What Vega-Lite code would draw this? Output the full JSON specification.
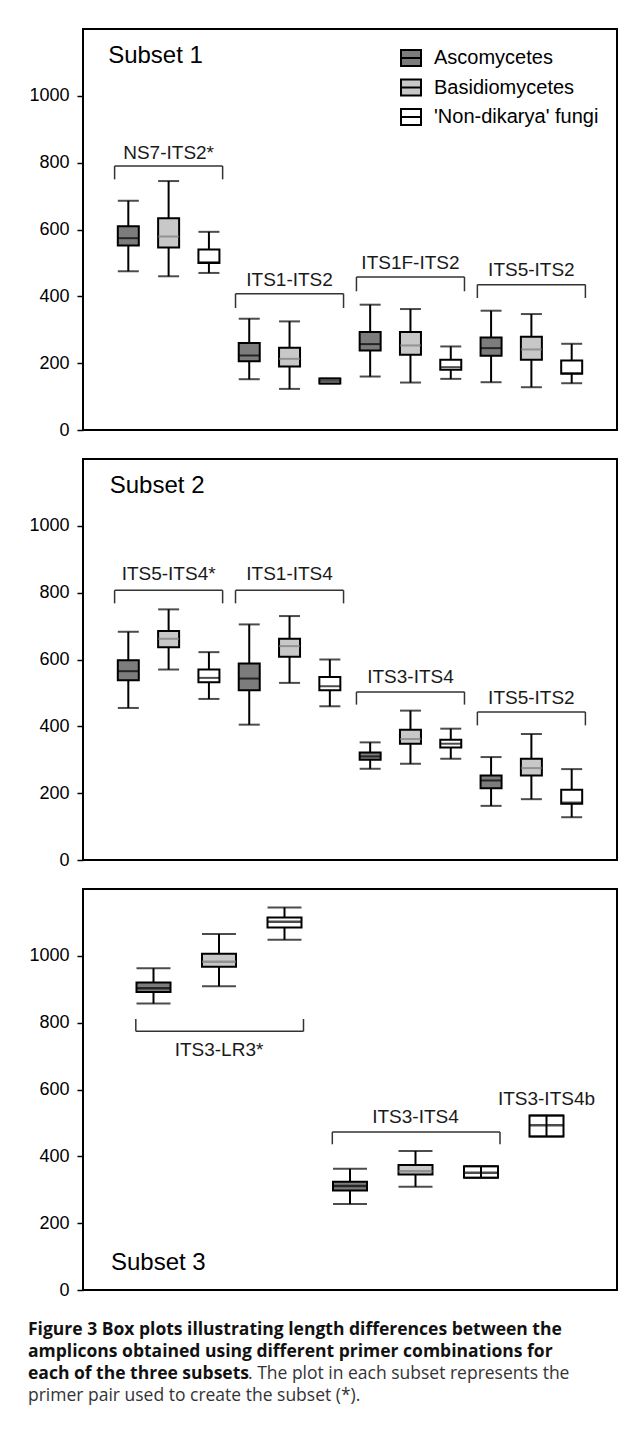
{
  "$schema": "https://vega.github.io/schema/vega-lite/v6.json",
  "background": "white",
  "padding": {"left": 27, "top": 28, "right": 11, "bottom": 20},
  "bounds": "flush",
  "spacing": 29,
  "datasets": {
    "s1": [
      {"pos": 1, "group": "NS7-ITS2*", "taxon": "Ascomycetes", "lower": 475, "q1": 552, "median": 574, "q3": 610, "upper": 686},
      {"pos": 2, "group": "NS7-ITS2*", "taxon": "Basidiomycetes", "lower": 460, "q1": 546, "median": 579, "q3": 634, "upper": 745},
      {"pos": 3, "group": "NS7-ITS2*", "taxon": "'Non-dikarya' fungi", "lower": 470, "q1": 500, "median": 502, "q3": 540, "upper": 593},
      {"pos": 4, "group": "ITS1-ITS2", "taxon": "Ascomycetes", "lower": 152, "q1": 206, "median": 223, "q3": 260, "upper": 333},
      {"pos": 5, "group": "ITS1-ITS2", "taxon": "Basidiomycetes", "lower": 123, "q1": 190, "median": 213, "q3": 246, "upper": 325},
      {"pos": 6, "group": "ITS1-ITS2", "taxon": "'Non-dikarya' fungi", "lower": 139, "q1": 139, "median": 147, "q3": 154, "upper": 154},
      {"pos": 7, "group": "ITS1F-ITS2", "taxon": "Ascomycetes", "lower": 160, "q1": 238, "median": 257, "q3": 293, "upper": 375},
      {"pos": 8, "group": "ITS1F-ITS2", "taxon": "Basidiomycetes", "lower": 142, "q1": 225, "median": 253, "q3": 293, "upper": 362},
      {"pos": 9, "group": "ITS1F-ITS2", "taxon": "'Non-dikarya' fungi", "lower": 153, "q1": 180, "median": 188, "q3": 210, "upper": 250},
      {"pos": 10, "group": "ITS5-ITS2", "taxon": "Ascomycetes", "lower": 143, "q1": 222, "median": 245, "q3": 277, "upper": 357},
      {"pos": 11, "group": "ITS5-ITS2", "taxon": "Basidiomycetes", "lower": 128, "q1": 210, "median": 241, "q3": 279, "upper": 347},
      {"pos": 12, "group": "ITS5-ITS2", "taxon": "'Non-dikarya' fungi", "lower": 140, "q1": 168, "median": 170, "q3": 208, "upper": 258}
    ],
    "s2": [
      {"pos": 1, "group": "ITS5-ITS4*", "taxon": "Ascomycetes", "lower": 455, "q1": 538, "median": 565, "q3": 598, "upper": 683},
      {"pos": 2, "group": "ITS5-ITS4*", "taxon": "Basidiomycetes", "lower": 570, "q1": 637, "median": 662, "q3": 685, "upper": 750},
      {"pos": 3, "group": "ITS5-ITS4*", "taxon": "'Non-dikarya' fungi", "lower": 482, "q1": 532, "median": 545, "q3": 570, "upper": 622},
      {"pos": 4, "group": "ITS1-ITS4", "taxon": "Ascomycetes", "lower": 405, "q1": 508, "median": 543, "q3": 588, "upper": 705},
      {"pos": 5, "group": "ITS1-ITS4", "taxon": "Basidiomycetes", "lower": 530, "q1": 608, "median": 640, "q3": 662, "upper": 730},
      {"pos": 6, "group": "ITS1-ITS4", "taxon": "'Non-dikarya' fungi", "lower": 460, "q1": 508, "median": 520, "q3": 548, "upper": 600},
      {"pos": 7, "group": "ITS3-ITS4", "taxon": "Ascomycetes", "lower": 273, "q1": 300, "median": 310, "q3": 322, "upper": 352},
      {"pos": 8, "group": "ITS3-ITS4", "taxon": "Basidiomycetes", "lower": 288, "q1": 348, "median": 362, "q3": 390, "upper": 447},
      {"pos": 9, "group": "ITS3-ITS4", "taxon": "'Non-dikarya' fungi", "lower": 303, "q1": 337, "median": 348, "q3": 360, "upper": 393},
      {"pos": 10, "group": "ITS5-ITS2", "taxon": "Ascomycetes", "lower": 162, "q1": 215, "median": 238, "q3": 253, "upper": 308},
      {"pos": 11, "group": "ITS5-ITS2", "taxon": "Basidiomycetes", "lower": 182, "q1": 253, "median": 275, "q3": 303, "upper": 377},
      {"pos": 12, "group": "ITS5-ITS2", "taxon": "'Non-dikarya' fungi", "lower": 128, "q1": 168, "median": 172, "q3": 210, "upper": 272}
    ],
    "s3": [
      {"pos": 1, "group": "ITS3-LR3*", "taxon": "Ascomycetes", "lower": 857, "q1": 892, "median": 903, "q3": 920, "upper": 963},
      {"pos": 2, "group": "ITS3-LR3*", "taxon": "Basidiomycetes", "lower": 909, "q1": 967, "median": 982, "q3": 1006, "upper": 1065},
      {"pos": 3, "group": "ITS3-LR3*", "taxon": "'Non-dikarya' fungi", "lower": 1048, "q1": 1085, "median": 1102, "q3": 1115, "upper": 1145},
      {"pos": 4, "group": "ITS3-ITS4", "taxon": "Ascomycetes", "lower": 257, "q1": 298, "median": 311, "q3": 324, "upper": 363},
      {"pos": 5, "group": "ITS3-ITS4", "taxon": "Basidiomycetes", "lower": 309, "q1": 346, "median": 355, "q3": 374, "upper": 416},
      {"pos": 6, "group": "ITS3-ITS4", "taxon": "'Non-dikarya' fungi", "lower": 336, "q1": 336, "median": 351, "q3": 370, "upper": 370},
      {"pos": 7, "group": "ITS3-ITS4b", "taxon": "'Non-dikarya' fungi", "lower": 459, "q1": 459, "median": 493, "q3": 522, "upper": 522}
    ],
    "b1": [
      {"label": "NS7-ITS2*", "first": 1, "last": 3, "level": 790, "tip": 750, "ly": 830},
      {"label": "ITS1-ITS2", "first": 4, "last": 6, "level": 408, "tip": 365, "ly": 450},
      {"label": "ITS1F-ITS2", "first": 7, "last": 9, "level": 458, "tip": 415, "ly": 500},
      {"label": "ITS5-ITS2", "first": 10, "last": 12, "level": 435, "tip": 395, "ly": 478}
    ],
    "b2": [
      {"label": "ITS5-ITS4*", "first": 1, "last": 3, "level": 807, "tip": 768, "ly": 855},
      {"label": "ITS1-ITS4", "first": 4, "last": 6, "level": 807, "tip": 768, "ly": 855},
      {"label": "ITS3-ITS4", "first": 7, "last": 9, "level": 503, "tip": 465, "ly": 547},
      {"label": "ITS5-ITS2", "first": 10, "last": 12, "level": 443, "tip": 403, "ly": 485}
    ],
    "b3": [
      {"label": "ITS3-LR3*", "first": 1, "last": 3, "level": 774, "tip": 811, "ly": 717},
      {"label": "ITS3-ITS4", "first": 4, "last": 6, "level": 473, "tip": 436, "ly": 517},
      {"label": "ITS3-ITS4b", "first": 7, "last": 7, "level": null, "tip": null, "ly": 571}
    ],
    "cap": [
      {"line": 1, "part": "lead", "text": "Figure 3 Box plots illustrating length differences between the"},
      {"line": 2, "part": "lead", "text": "amplicons obtained using different primer combinations for"},
      {"line": 3, "part": "lead", "text": "each of the three subsets"},
      {"line": 3, "part": "inline", "text": ". The plot in each subset represents the"},
      {"line": 4, "part": "body", "text": "primer pair used to create the subset (*)."}
    ]
  },
  "resolve": {
    "scale": {"x": "independent", "y": "independent", "fill": "independent", "color": "independent"},
    "legend": {"fill": "independent"}
  },
  "vconcat": [
    {
      "width": 534,
      "height": 401,
      "layer": [
        {
          "data": {"name": "s1"},
          "mark": {"type": "rule", "stroke": "black", "strokeWidth": 2},
          "encoding": {
            "x": {"field": "pos", "type": "quantitative", "scale": {"domain": [0, 13], "nice": false, "zero": false}},
            "y": {"field": "lower", "type": "quantitative", "title": null, "scale": {"domain": [0, 1200], "nice": false},
              "axis": {"values": [0, 100, 200, 300, 400, 500, 600, 700, 800, 900, 1000, 1100], "format": "d", "labelOverlap": false,
                "labelExpr": "datum.value % 200 === 0 ? datum.label : ''",
                "tickSize": {"condition": {"test": "datum.value % 200 === 0", "value": 6}, "value": 3}}},
            "y2": {"field": "upper"}
          }
        },
        {
          "data": {"name": "s1"},
          "mark": {"type": "bar", "width": 21, "stroke": "black", "strokeWidth": 2},
          "encoding": {
            "x": {"field": "pos", "type": "quantitative"},
            "y": {"field": "q1", "type": "quantitative", "title": null},
            "y2": {"field": "q3"},
            "fill": {"field": "taxon", "type": "nominal",
              "scale": {"domain": ["Ascomycetes", "Basidiomycetes", "'Non-dikarya' fungi"], "range": ["#7c7c7c", "#c8c8c8", "#ffffff"]},
              "legend": {"orient": "top-right", "offset": 18, "padding": 0, "title": null, "labelFont": "Liberation Sans", "labelFontSize": 20, "labelColor": "black", "labelOffset": 12, "labelLimit": 400, "rowPadding": 5.5,
                "symbolType": "M-1,-0.8H1V0.8H-1Z M-1,0H1", "symbolSize": 400, "symbolStrokeColor": "black", "symbolStrokeWidth": 2}}
          }
        },
        {
          "data": {"name": "s1"},
          "mark": {"type": "tick", "orient": "horizontal", "size": 21, "thickness": 2},
          "encoding": {
            "x": {"field": "pos", "type": "quantitative"},
            "y": {"field": "median", "type": "quantitative", "title": null},
            "color": {"field": "taxon", "type": "nominal", "legend": null,
              "scale": {"domain": ["Ascomycetes", "Basidiomycetes", "'Non-dikarya' fungi"], "range": ["#000000", "#7a7a7a", "#000000"]}}
          }
        },
        {
          "data": {"name": "s1"},
          "mark": {"type": "tick", "orient": "horizontal", "size": 21, "thickness": 2, "color": "black"},
          "encoding": {
            "x": {"field": "pos", "type": "quantitative"},
            "y": {"field": "lower", "type": "quantitative", "title": null}
          }
        },
        {
          "data": {"name": "s1"},
          "mark": {"type": "tick", "orient": "horizontal", "size": 21, "thickness": 2, "color": "black"},
          "encoding": {
            "x": {"field": "pos", "type": "quantitative"},
            "y": {"field": "upper", "type": "quantitative", "title": null}
          }
        },
        {
          "data": {"name": "b1"},
          "transform": [
            {"calculate": "datum.first - 0.34", "as": "x0"},
            {"calculate": "datum.last + 0.34", "as": "x1"},
            {"calculate": "(datum.first + datum.last) / 2", "as": "mid"}
          ],
          "layer": [
            {"mark": {"type": "rule", "stroke": "#333333", "strokeWidth": 1.5},
             "encoding": {"x": {"field": "x0", "type": "quantitative"}, "x2": {"field": "x1"}, "y": {"field": "level", "type": "quantitative", "title": null}}},
            {"mark": {"type": "rule", "stroke": "#333333", "strokeWidth": 1.5},
             "encoding": {"x": {"field": "x0", "type": "quantitative"}, "y": {"field": "level", "type": "quantitative", "title": null}, "y2": {"field": "tip"}}},
            {"mark": {"type": "rule", "stroke": "#333333", "strokeWidth": 1.5},
             "encoding": {"x": {"field": "x1", "type": "quantitative"}, "y": {"field": "level", "type": "quantitative", "title": null}, "y2": {"field": "tip"}}},
            {"mark": {"type": "text", "font": "Liberation Sans", "fontSize": 19, "color": "#1a1a1a", "align": "center", "baseline": "middle"},
             "encoding": {"x": {"field": "mid", "type": "quantitative"}, "y": {"field": "ly", "type": "quantitative", "title": null}, "text": {"field": "label"}}}
          ]
        },
        {
          "data": {"values": [{"label": "Subset 1"}]},
          "mark": {"type": "text", "font": "Liberation Sans", "fontSize": 24, "color": "black", "align": "left", "baseline": "middle"},
          "encoding": {"x": {"datum": 0.5, "type": "quantitative"}, "y": {"datum": 1120, "type": "quantitative", "title": null}, "text": {"field": "label"}}
        }
      ]
    },
    {
      "width": 534,
      "height": 401,
      "layer": [
        {
          "data": {"name": "s2"},
          "mark": {"type": "rule", "stroke": "black", "strokeWidth": 2},
          "encoding": {
            "x": {"field": "pos", "type": "quantitative", "scale": {"domain": [0, 13], "nice": false, "zero": false}},
            "y": {"field": "lower", "type": "quantitative", "title": null, "scale": {"domain": [0, 1200], "nice": false},
              "axis": {"values": [0, 100, 200, 300, 400, 500, 600, 700, 800, 900, 1000, 1100], "format": "d", "labelOverlap": false,
                "labelExpr": "datum.value % 200 === 0 ? datum.label : ''",
                "tickSize": {"condition": {"test": "datum.value % 200 === 0", "value": 6}, "value": 3}}},
            "y2": {"field": "upper"}
          }
        },
        {
          "data": {"name": "s2"},
          "mark": {"type": "bar", "width": 21, "stroke": "black", "strokeWidth": 2},
          "encoding": {
            "x": {"field": "pos", "type": "quantitative"},
            "y": {"field": "q1", "type": "quantitative", "title": null},
            "y2": {"field": "q3"},
            "fill": {"field": "taxon", "type": "nominal", "legend": null,
              "scale": {"domain": ["Ascomycetes", "Basidiomycetes", "'Non-dikarya' fungi"], "range": ["#7c7c7c", "#c8c8c8", "#ffffff"]}}
          }
        },
        {
          "data": {"name": "s2"},
          "mark": {"type": "tick", "orient": "horizontal", "size": 21, "thickness": 2},
          "encoding": {
            "x": {"field": "pos", "type": "quantitative"},
            "y": {"field": "median", "type": "quantitative", "title": null},
            "color": {"field": "taxon", "type": "nominal", "legend": null,
              "scale": {"domain": ["Ascomycetes", "Basidiomycetes", "'Non-dikarya' fungi"], "range": ["#000000", "#7a7a7a", "#000000"]}}
          }
        },
        {
          "data": {"name": "s2"},
          "mark": {"type": "tick", "orient": "horizontal", "size": 21, "thickness": 2, "color": "black"},
          "encoding": {
            "x": {"field": "pos", "type": "quantitative"},
            "y": {"field": "lower", "type": "quantitative", "title": null}
          }
        },
        {
          "data": {"name": "s2"},
          "mark": {"type": "tick", "orient": "horizontal", "size": 21, "thickness": 2, "color": "black"},
          "encoding": {
            "x": {"field": "pos", "type": "quantitative"},
            "y": {"field": "upper", "type": "quantitative", "title": null}
          }
        },
        {
          "data": {"name": "b2"},
          "transform": [
            {"calculate": "datum.first - 0.34", "as": "x0"},
            {"calculate": "datum.last + 0.34", "as": "x1"},
            {"calculate": "(datum.first + datum.last) / 2", "as": "mid"}
          ],
          "layer": [
            {"mark": {"type": "rule", "stroke": "#333333", "strokeWidth": 1.5},
             "encoding": {"x": {"field": "x0", "type": "quantitative"}, "x2": {"field": "x1"}, "y": {"field": "level", "type": "quantitative", "title": null}}},
            {"mark": {"type": "rule", "stroke": "#333333", "strokeWidth": 1.5},
             "encoding": {"x": {"field": "x0", "type": "quantitative"}, "y": {"field": "level", "type": "quantitative", "title": null}, "y2": {"field": "tip"}}},
            {"mark": {"type": "rule", "stroke": "#333333", "strokeWidth": 1.5},
             "encoding": {"x": {"field": "x1", "type": "quantitative"}, "y": {"field": "level", "type": "quantitative", "title": null}, "y2": {"field": "tip"}}},
            {"mark": {"type": "text", "font": "Liberation Sans", "fontSize": 19, "color": "#1a1a1a", "align": "center", "baseline": "middle"},
             "encoding": {"x": {"field": "mid", "type": "quantitative"}, "y": {"field": "ly", "type": "quantitative", "title": null}, "text": {"field": "label"}}}
          ]
        },
        {
          "data": {"values": [{"label": "Subset 2"}]},
          "mark": {"type": "text", "font": "Liberation Sans", "fontSize": 24, "color": "black", "align": "left", "baseline": "middle"},
          "encoding": {"x": {"datum": 0.54, "type": "quantitative"}, "y": {"datum": 1120, "type": "quantitative", "title": null}, "text": {"field": "label"}}
        }
      ]
    },
    {
      "width": 534,
      "height": 401,
      "layer": [
        {
          "data": {"name": "s3"},
          "mark": {"type": "rule", "stroke": "black", "strokeWidth": 2},
          "encoding": {
            "x": {"field": "pos", "type": "quantitative", "scale": {"domain": [0, 8], "nice": false, "zero": false}},
            "y": {"field": "lower", "type": "quantitative", "title": null, "scale": {"domain": [0, 1200], "nice": false},
              "axis": {"values": [0, 100, 200, 300, 400, 500, 600, 700, 800, 900, 1000, 1100], "format": "d", "labelOverlap": false,
                "labelExpr": "datum.value % 200 === 0 ? datum.label : ''",
                "tickSize": {"condition": {"test": "datum.value % 200 === 0", "value": 6}, "value": 3}}},
            "y2": {"field": "upper"}
          }
        },
        {
          "data": {"name": "s3"},
          "mark": {"type": "bar", "width": 34, "stroke": "black", "strokeWidth": 2},
          "encoding": {
            "x": {"field": "pos", "type": "quantitative"},
            "y": {"field": "q1", "type": "quantitative", "title": null},
            "y2": {"field": "q3"},
            "fill": {"field": "taxon", "type": "nominal", "legend": null,
              "scale": {"domain": ["Ascomycetes", "Basidiomycetes", "'Non-dikarya' fungi"], "range": ["#7c7c7c", "#c8c8c8", "#ffffff"]}}
          }
        },
        {
          "data": {"name": "s3"},
          "transform": [{"filter": "datum.lower == datum.q1"}],
          "mark": {"type": "rule", "stroke": "black", "strokeWidth": 2},
          "encoding": {
            "x": {"field": "pos", "type": "quantitative"},
            "y": {"field": "q1", "type": "quantitative", "title": null},
            "y2": {"field": "q3"}
          }
        },
        {
          "data": {"name": "s3"},
          "mark": {"type": "tick", "orient": "horizontal", "size": 34, "thickness": 2.5},
          "encoding": {
            "x": {"field": "pos", "type": "quantitative"},
            "y": {"field": "median", "type": "quantitative", "title": null},
            "color": {"field": "taxon", "type": "nominal", "legend": null,
              "scale": {"domain": ["Ascomycetes", "Basidiomycetes", "'Non-dikarya' fungi"], "range": ["#000000", "#7a7a7a", "#000000"]}}
          }
        },
        {
          "data": {"name": "s3"},
          "mark": {"type": "tick", "orient": "horizontal", "size": 34, "thickness": 2, "color": "black"},
          "encoding": {
            "x": {"field": "pos", "type": "quantitative"},
            "y": {"field": "lower", "type": "quantitative", "title": null}
          }
        },
        {
          "data": {"name": "s3"},
          "mark": {"type": "tick", "orient": "horizontal", "size": 34, "thickness": 2, "color": "black"},
          "encoding": {
            "x": {"field": "pos", "type": "quantitative"},
            "y": {"field": "upper", "type": "quantitative", "title": null}
          }
        },
        {
          "data": {"name": "b3"},
          "transform": [
            {"calculate": "datum.first - 0.27", "as": "x0"},
            {"calculate": "datum.last + 0.29", "as": "x1"},
            {"calculate": "(datum.first + datum.last) / 2", "as": "mid"}
          ],
          "layer": [
            {"transform": [{"filter": "datum.level != null"}],
             "mark": {"type": "rule", "stroke": "#333333", "strokeWidth": 1.5},
             "encoding": {"x": {"field": "x0", "type": "quantitative"}, "x2": {"field": "x1"}, "y": {"field": "level", "type": "quantitative", "title": null}}},
            {"transform": [{"filter": "datum.level != null"}],
             "mark": {"type": "rule", "stroke": "#333333", "strokeWidth": 1.5},
             "encoding": {"x": {"field": "x0", "type": "quantitative"}, "y": {"field": "level", "type": "quantitative", "title": null}, "y2": {"field": "tip"}}},
            {"transform": [{"filter": "datum.level != null"}],
             "mark": {"type": "rule", "stroke": "#333333", "strokeWidth": 1.5},
             "encoding": {"x": {"field": "x1", "type": "quantitative"}, "y": {"field": "level", "type": "quantitative", "title": null}, "y2": {"field": "tip"}}},
            {"mark": {"type": "text", "font": "Liberation Sans", "fontSize": 19, "color": "#1a1a1a", "align": "center", "baseline": "middle"},
             "encoding": {"x": {"field": "mid", "type": "quantitative"}, "y": {"field": "ly", "type": "quantitative", "title": null}, "text": {"field": "label"}}}
          ]
        },
        {
          "data": {"values": [{"label": "Subset 3"}]},
          "mark": {"type": "text", "font": "Liberation Sans", "fontSize": 24, "color": "black", "align": "left", "baseline": "middle"},
          "encoding": {"x": {"datum": 0.35, "type": "quantitative"}, "y": {"datum": 81, "type": "quantitative", "title": null}, "text": {"field": "label"}}
        }
      ]
    },
    {
      "width": 534,
      "height": 88,
      "view": {"stroke": null},
      "data": {"name": "cap"},
      "encoding": {
        "y": {"field": "line", "type": "ordinal", "axis": null, "scale": {"paddingInner": 0, "paddingOuter": 0}}
      },
      "layer": [
        {
          "transform": [{"filter": "datum.part == 'lead'"}],
          "mark": {"type": "text", "font": "Open Sans", "fontSize": 17.5, "fontWeight": "bold", "color": "#111111", "align": "left", "baseline": "middle", "dx": -55},
          "encoding": {"x": {"value": 0}, "text": {"field": "text"}}
        },
        {
          "transform": [{"filter": "datum.part == 'inline'"}],
          "mark": {"type": "text", "font": "Open Sans", "fontSize": 17.5, "color": "#333333", "align": "left", "baseline": "middle", "dx": 165},
          "encoding": {"x": {"value": 0}, "text": {"field": "text"}}
        },
        {
          "transform": [{"filter": "datum.part == 'body'"}],
          "mark": {"type": "text", "font": "Open Sans", "fontSize": 17.5, "color": "#333333", "align": "left", "baseline": "middle", "dx": -55},
          "encoding": {"x": {"value": 0}, "text": {"field": "text"}}
        }
      ]
    }
  ],
  "config": {
    "view": {"stroke": "black", "strokeWidth": 2},
    "axisX": {"disable": true},
    "axisY": {"labelFont": "Liberation Sans", "labelFontSize": 18, "labelColor": "black", "labelPadding": 8, "tickColor": "black", "tickWidth": 1.5, "domain": false, "grid": false},
    "text": {"font": "Liberation Sans"}
  }
}
